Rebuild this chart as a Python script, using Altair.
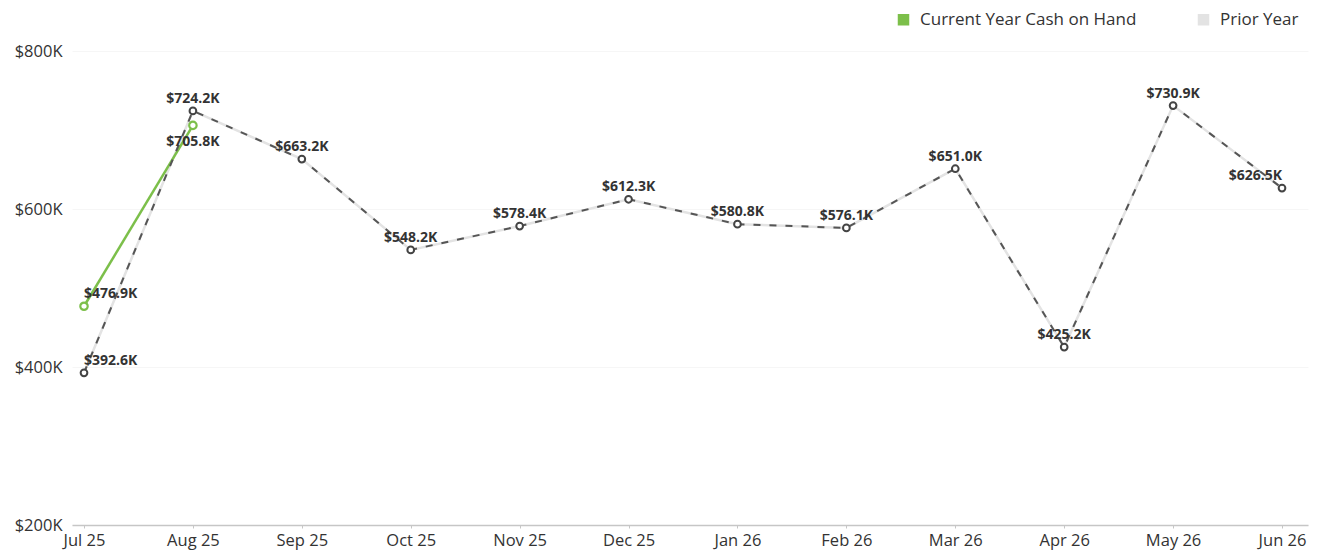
import altair as alt
import pandas as pd

months = ["Jul 25", "Aug 25", "Sep 25", "Oct 25", "Nov 25", "Dec 25",
          "Jan 26", "Feb 26", "Mar 26", "Apr 26", "May 26", "Jun 26"]
prior_year = [392.6, 724.2, 663.2, 548.2, 578.4, 612.3, 580.8, 576.1, 651.0, 425.2, 730.9, 626.5]
current_year = [476.9, 705.8]
series_names = ["Current Year Cash on Hand", "Prior Year"]
series_colors = ["#7cbf4a", "#e3e3e3"]
y_ticks = [200, 400, 600, 800]

rows = []
n = len(months)
for i, m in enumerate(months):
    p = prior_year[i]
    c = current_year[i] if i < len(current_year) else None
    align = "left" if i == 0 else ("right" if i == n - 1 else "center")
    rows.append({"month": m, "series": series_names[1], "value": p, "align": align,
                 "pos": "above"})
    if c is not None:
        rows.append({"month": m, "series": series_names[0], "value": c, "align": align,
                     "pos": "above" if c >= p else "below"})
df = pd.DataFrame(rows)
df["label"] = df["value"].map(lambda v: f"${v:.1f}K")

FONT = "Open Sans"

x_enc = alt.X("month:O", sort=months,
              scale=alt.Scale(type="point", padding=0.1745, align=0.316),
              axis=alt.Axis(title=None, labelAngle=0, labelFontSize=16.5, labelColor="#333",
                            labelPadding=4, domainColor="#c6c6c6", domainWidth=1.5,
                            tickColor="#c6c6c6", tickSize=3, grid=False, labelFont=FONT))
y_enc = alt.Y("value:Q",
              scale=alt.Scale(domain=[200, 800], nice=False, zero=False),
              axis=alt.Axis(title=None, values=y_ticks, labelExpr='"$" + datum.value + "K"',
                            labelFontSize=16.5, labelColor="#333", labelPadding=10,
                            domain=False, ticks=False, gridColor="#f6f6f6", labelFont=FONT))

base = alt.Chart(df).encode(x=x_enc, y=y_enc)

lines = base.mark_line(strokeWidth=2.5).encode(
    stroke=alt.Stroke("series:N", scale=alt.Scale(domain=series_names, range=series_colors),
                      legend=None),
    detail="series:N")

legend_layer = base.mark_square(opacity=0, size=10).encode(
    color=alt.Color("series:N", scale=alt.Scale(domain=series_names, range=series_colors),
                    legend=alt.Legend(title=None, orient="none", direction="horizontal",
                                      legendX=823, legendY=-40, symbolType="square",
                                      symbolSize=100, symbolOpacity=1, labelFontSize=17,
                                      labelColor="#333", labelFont=FONT, columnPadding=58,
                                      labelOffset=8, labelLimit=500)))

prior_dash = base.transform_filter(alt.datum.series == series_names[1]).mark_line(
    color="#555", strokeWidth=2, strokeDash=[7, 9])

prior_pts = base.transform_filter(alt.datum.series == series_names[1]).mark_point(
    shape="circle", filled=False, fill="white", color="#444", size=45, strokeWidth=2, opacity=1)
cur_pts = base.transform_filter(alt.datum.series == series_names[0]).mark_point(
    shape="circle", filled=False, fill="white", color="#7cbf4a", size=55, strokeWidth=2.2, opacity=1)

text_layers = []
for al in ["left", "center", "right"]:
    for pos in ["above", "below"]:
        t = base.transform_filter(
            (alt.datum.align == al) & (alt.datum.pos == pos)
        ).mark_text(align=al, baseline="alphabetic", dy=(-8 if pos == "above" else 21),
                    fontSize=14, fontWeight="bold", color="#333", font=FONT).encode(
            text="label:N")
        text_layers.append(t)

chart = alt.layer(legend_layer, lines, prior_dash, prior_pts, cur_pts, *text_layers).properties(
    width=1236, height=474,
    autosize=alt.AutoSizeParams(type="none"),
    padding={"left": 64, "top": 43, "right": 6, "bottom": 33},
).configure_view(stroke=None)

chart.save("out.html", embed_options={"renderer": "svg", "actions": False})
